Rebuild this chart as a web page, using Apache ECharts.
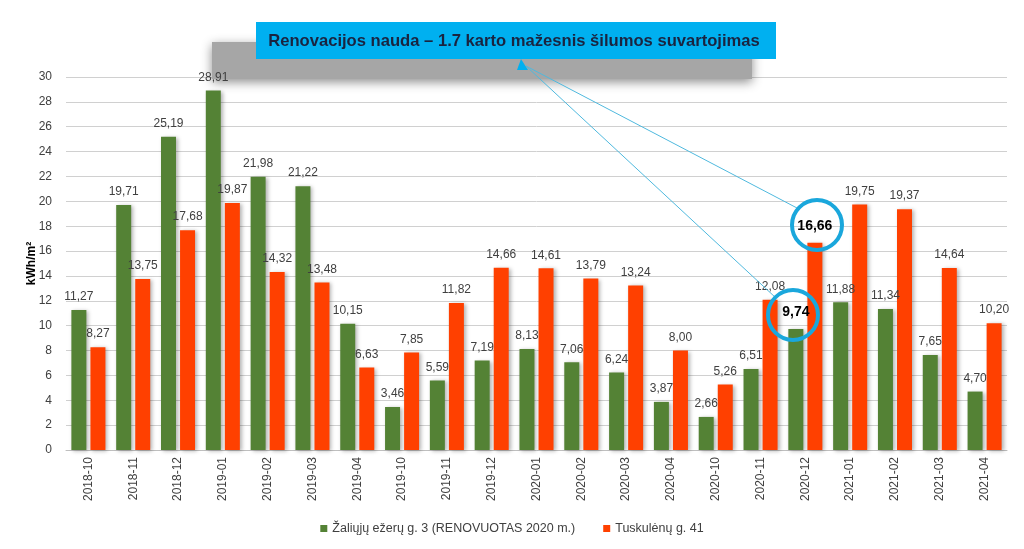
<!DOCTYPE html>
<html><head><meta charset="utf-8">
<script src="https://cdn.jsdelivr.net/npm/echarts@6/dist/echarts.min.js"></script>
<style>html,body{margin:0;padding:0;background:#fff}#c{width:1024px;height:549px}</style>
</head><body><div id="c"></div>
<script>
const categories = ['2018-10','2018-11','2018-12','2019-01','2019-02','2019-03','2019-04','2019-10','2019-11','2019-12','2020-01','2020-02','2020-03','2020-04','2020-10','2020-11','2020-12','2021-01','2021-02','2021-03','2021-04'];
const greenValues = [11.27,19.71,25.19,28.91,21.98,21.22,10.15,3.46,5.59,7.19,8.13,7.06,6.24,3.87,2.66,6.51,9.74,11.88,11.34,7.65,4.70];
const redValues = [8.27,13.75,17.68,19.87,14.32,13.48,6.63,7.85,11.82,14.66,14.61,13.79,13.24,8.00,5.26,12.08,16.66,19.75,19.37,14.64,10.20];
const yTicks = [0,2,4,6,8,10,12,14,16,18,20,22,24,26,28,30];
const seriesNames = ['Žaliųjų ežerų g. 3 (RENOVUOTAS 2020 m.)','Tuskulėnų g. 41'];
const titleText = 'Renovacijos nauda – 1.7 karto mažesnis šilumos suvartojimas';
const highlightIndex = 16;

const fmt = v => v.toFixed(2).replace('.', ',');
function buildData(vals) {
  return vals.map((v, i) => i === highlightIndex
    ? {value: v, label: {fontWeight: 'bold', fontSize: 14, color: '#000', distance: 10}}
    : v);
}
const baseLabel = {show: true, position: 'top', distance: 7, fontSize: 12, color: '#404040',
  fontFamily: 'Liberation Sans, Arial, sans-serif', formatter: p => fmt(p.value)};

const chart = echarts.init(document.getElementById('c'), null, {renderer: 'canvas'});
chart.setOption({
  animation: false,
  textStyle: {fontFamily: 'Liberation Sans, Arial, sans-serif'},
  grid: {left: 66, right: 17, top: 77, bottom: 99},
  legend: {bottom: 9, left: 'center', itemWidth: 7, itemHeight: 7, itemGap: 28,
    icon: 'rect', textStyle: {fontSize: 12.5, color: '#404040'}, data: seriesNames},
  xAxis: {type: 'category', data: categories,
    axisLine: {lineStyle: {color: '#BFBFBF'}}, axisTick: {show: false},
    axisLabel: {rotate: 90, fontSize: 12, color: '#404040', margin: 7}},
  yAxis: {type: 'value', min: yTicks[0], max: yTicks[yTicks.length - 1], interval: 2,
    name: 'kWh/m²', nameLocation: 'middle', nameGap: 28, nameMoveOverlap: false,
    nameTextStyle: {fontWeight: 'bold', fontSize: 12, color: '#000'},
    axisLine: {show: false}, axisTick: {show: false},
    axisLabel: {fontSize: 12, color: '#404040', margin: 14},
    splitLine: {lineStyle: {color: '#D0D0D0', width: 1}}},
  series: [
    {name: seriesNames[0], type: 'bar', data: buildData(greenValues), barWidth: 15, barGap: '27%',
     itemStyle: {color: '#548235', shadowColor: 'rgba(0,0,0,0.3)', shadowBlur: 4, shadowOffsetX: 2, shadowOffsetY: 1},
     label: baseLabel},
    {name: seriesNames[1], type: 'bar', data: buildData(redValues), barWidth: 15,
     itemStyle: {color: '#FF4000', shadowColor: 'rgba(0,0,0,0.3)', shadowBlur: 4, shadowOffsetX: 2, shadowOffsetY: 1},
     label: baseLabel}
  ],
  graphic: [
    {type: 'rect', shape: {x: 212, y: 42, width: 540, height: 37}, z: 1,
     style: {fill: '#A6A6A6', shadowBlur: 10, shadowColor: 'rgba(0,0,0,0.45)', shadowOffsetY: 3}},
    {type: 'rect', shape: {x: 256, y: 22, width: 520, height: 37}, z: 11,
     style: {fill: '#00B0F0'}},
    {type: 'polygon', shape: {points: [[517, 70], [528, 70], [521, 59]]}, z: 11, style: {fill: '#00B0F0'}},
    {type: 'text', x: 514, y: 41, z: 12,
     style: {text: titleText, fill: '#1A2440', font: 'bold 16.6px "Liberation Sans", Arial, sans-serif',
       textAlign: 'center', textVerticalAlign: 'middle'}},
    {type: 'line', shape: {x1: 526, y1: 66, x2: 797, y2: 208}, z: 12, style: {stroke: '#4FB9DE', lineWidth: 1}},
    {type: 'line', shape: {x1: 526, y1: 66, x2: 776, y2: 298}, z: 12, style: {stroke: '#4FB9DE', lineWidth: 1}},
    {type: 'circle', shape: {cx: 817, cy: 225, r: 25}, z: 12, style: {fill: 'none', stroke: '#1AA7DC', lineWidth: 4}},
    {type: 'circle', shape: {cx: 793, cy: 315, r: 25}, z: 12, style: {fill: 'none', stroke: '#1AA7DC', lineWidth: 4}}
  ]
});
</script></body></html>
